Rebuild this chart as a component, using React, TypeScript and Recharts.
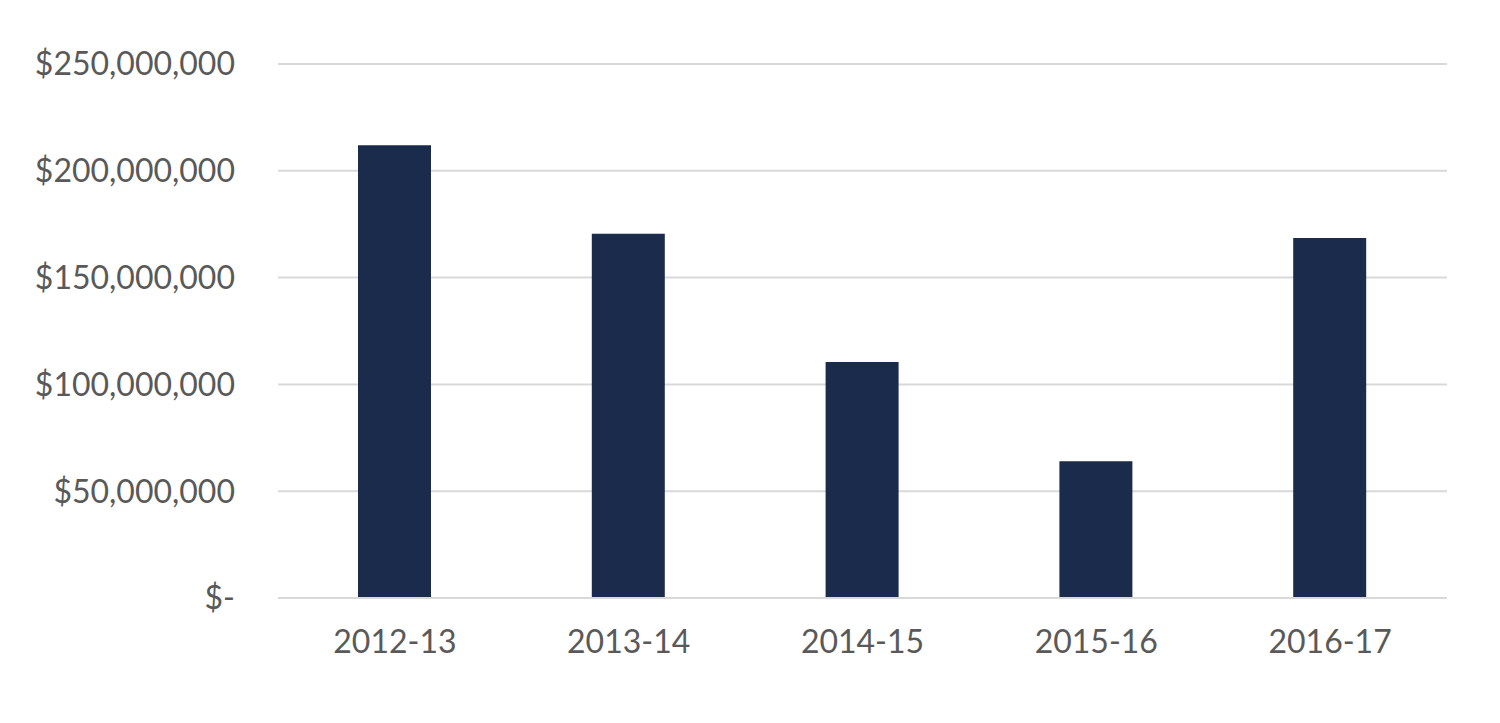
import { BarChart, Bar, XAxis, YAxis, CartesianGrid } from 'recharts';

const years = ['2012-13', '2013-14', '2014-15', '2015-16', '2016-17'];
const amounts = [212000000, 170500000, 110500000, 64000000, 168500000];
const yTicks = [0, 50000000, 100000000, 150000000, 200000000, 250000000];

const data = years.map((y, i) => ({ year: y, amount: amounts[i] }));

const fmt = (v: number) => (v === 0 ? '$-' : `$${v.toLocaleString('en-US')}`);

export default function App() {
  return (
    <div style={{ position: 'absolute', left: 0, top: 0, background: '#fff' }}>
      <BarChart
        width={1500}
        height={723}
        data={data}
        margin={{ top: 64, right: 53, bottom: 65, left: 0 }}
        style={{ fontFamily: 'Lato, sans-serif' }}
      >
        <CartesianGrid vertical={false} stroke="#d9d9d9" strokeWidth={2} />
        <XAxis
          dataKey="year"
          height={60}
          axisLine={{ stroke: '#d9d9d9', strokeWidth: 2 }}
          tickLine={false}
          tickMargin={26}
          tick={{ fill: '#595959', fontSize: 32 }}
        />
        <YAxis
          width={278}
          domain={[0, 250000000]}
          ticks={yTicks}
          axisLine={false}
          tickLine={false}
          tickMargin={37}
          tickFormatter={fmt}
          tick={{ fill: '#595959', fontSize: 32 }}
        />
        <Bar dataKey="amount" fill="#1b2b4b" barSize={73} isAnimationActive={false} />
      </BarChart>
    </div>
  );
}
